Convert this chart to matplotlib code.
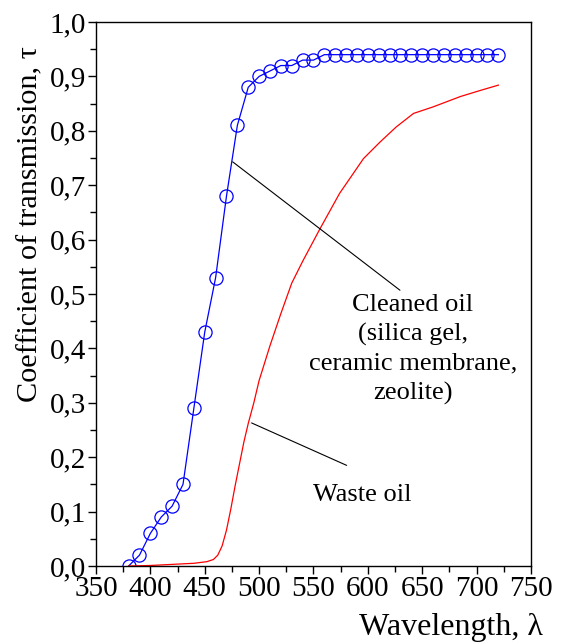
import os
import numpy as np
import matplotlib
matplotlib.use("Agg")
from matplotlib import pyplot as plt
from matplotlib import font_manager
from matplotlib.ticker import MultipleLocator, FuncFormatter

# cleaned oil (markers every 10 nm)
clean_wl = [380, 390, 400, 410, 420, 430, 440, 450, 460, 470, 480, 490, 500,
            510, 520, 530, 540, 550, 560, 570, 580, 590, 600, 610, 620, 630,
            640, 650, 660, 670, 680, 690, 700, 710, 720]
clean_tau = [0.0, 0.02, 0.06, 0.09, 0.11, 0.15, 0.29, 0.43, 0.53, 0.68, 0.81,
             0.88, 0.90, 0.91, 0.92, 0.92, 0.93, 0.93, 0.94, 0.94, 0.94, 0.94,
             0.94, 0.94, 0.94, 0.94, 0.94, 0.94, 0.94, 0.94, 0.94, 0.94, 0.94,
             0.94, 0.94]

# waste oil
waste_wl = [380, 400, 420, 440, 452, 458, 462, 466, 470, 474, 478, 482, 486,
            490, 495, 500, 510, 520, 530, 540, 556, 574, 596, 611, 626, 642,
            660, 685, 703, 720]
waste_tau = [0.0, 0.001, 0.003, 0.005, 0.008, 0.012, 0.02, 0.037, 0.066, 0.105,
             0.148, 0.188, 0.228, 0.262, 0.299, 0.341, 0.405, 0.464, 0.52, 0.56,
             0.62, 0.685, 0.749, 0.779, 0.807, 0.832, 0.844, 0.863, 0.874, 0.884]

# Times-like serif if there is one, else DejaVu Serif
names = {f.name for f in font_manager.fontManager.ttflist}
serif = [n for n in ['Liberation Serif', 'Times New Roman', 'Tinos',
                     'DejaVu Serif'] if n in names]
plt.rcParams['font.family'] = serif + ['DejaVu Sans']

fig = plt.figure(figsize=(5.61, 6.44), dpi=100)
ax = fig.add_axes([0.1711, 0.1211, 0.7754, 0.8447])

ax.plot(clean_wl, clean_tau, color='#0000ff', lw=0.9, marker='o', ms=9.5,
        mfc='none', mec='#0000ff', mew=0.9)
ax.plot(waste_wl, waste_tau, color='#ff0000', lw=0.9)

ax.set_xlim(350, 750)
ax.set_ylim(0, 1.0)
ax.xaxis.set_major_locator(MultipleLocator(50))
ax.xaxis.set_minor_locator(MultipleLocator(25))
ax.yaxis.set_major_locator(MultipleLocator(0.1))
ax.yaxis.set_minor_locator(MultipleLocator(0.05))
ax.yaxis.set_major_formatter(FuncFormatter(lambda v, p: f"{v:.1f}".replace('.', ',')))
ax.tick_params(which='both', direction='out', top=False, right=False,
               labelsize=21, pad=1, width=1)
ax.tick_params(which='major', length=6)
ax.tick_params(which='minor', length=4)
for s in ax.spines.values():
    s.set_linewidth(1.0)

# leader lines + labels
ax.annotate('', xy=(475.7, 0.743), xytext=(629.5, 0.507),
            arrowprops=dict(arrowstyle='-', color='black', lw=0.8,
                            shrinkA=0, shrinkB=0))
ax.text(641.5, 0.398, "Cleaned oil\n(silica gel,\nceramic membrane,\nzeolite)",
        ha='center', va='center', fontsize=19, linespacing=1.38)
ax.annotate('', xy=(493.1, 0.263), xytext=(580.5, 0.185),
            arrowprops=dict(arrowstyle='-', color='black', lw=0.8,
                            shrinkA=0, shrinkB=0))
ax.text(595.2, 0.13, "Waste oil", ha='center', va='center', fontsize=19)

fig.text(543 / 561, 1 - 628 / 644, "Wavelength, λ", ha='right', va='center',
         fontsize=23)
fig.text(30 / 561, 1 - 224 / 644, "Coefficient of transmission, τ", rotation=90,
         ha='center', va='center', fontsize=21.8)

fig.savefig('out.png', dpi=100)
